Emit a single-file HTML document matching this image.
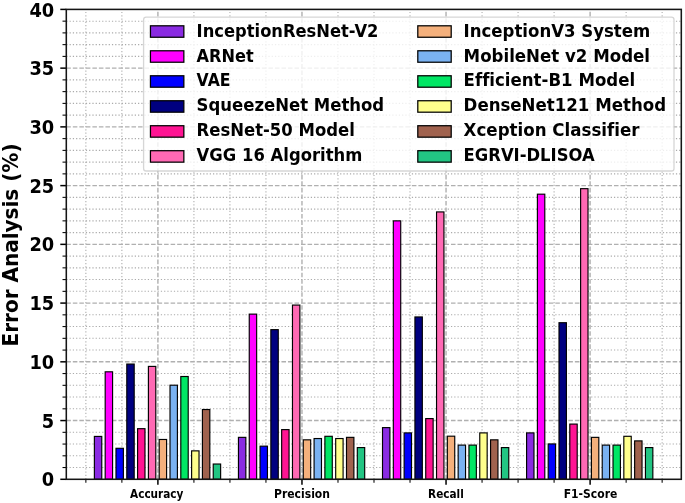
<!DOCTYPE html>
<html><head><meta charset="utf-8"><title>Error Analysis</title>
<style>html,body{margin:0;padding:0;background:#fff}svg{display:block}</style></head>
<body>
<svg width="685" height="503" viewBox="0 0 685 503">
<rect x="0" y="0" width="685" height="503" fill="#fff"/>
<g>
<path d="M66.3 467.55H681.3" stroke="#ababab" stroke-width="1.05" stroke-dasharray="1.23 2.03" fill="none"/>
<path d="M66.3 455.81H681.3" stroke="#ababab" stroke-width="1.05" stroke-dasharray="1.23 2.03" fill="none"/>
<path d="M66.3 444.06H681.3" stroke="#ababab" stroke-width="1.05" stroke-dasharray="1.23 2.03" fill="none"/>
<path d="M66.3 432.31H681.3" stroke="#ababab" stroke-width="1.05" stroke-dasharray="1.23 2.03" fill="none"/>
<path d="M66.3 408.81H681.3" stroke="#ababab" stroke-width="1.05" stroke-dasharray="1.23 2.03" fill="none"/>
<path d="M66.3 397.07H681.3" stroke="#ababab" stroke-width="1.05" stroke-dasharray="1.23 2.03" fill="none"/>
<path d="M66.3 385.32H681.3" stroke="#ababab" stroke-width="1.05" stroke-dasharray="1.23 2.03" fill="none"/>
<path d="M66.3 373.57H681.3" stroke="#ababab" stroke-width="1.05" stroke-dasharray="1.23 2.03" fill="none"/>
<path d="M66.3 350.08H681.3" stroke="#ababab" stroke-width="1.05" stroke-dasharray="1.23 2.03" fill="none"/>
<path d="M66.3 338.33H681.3" stroke="#ababab" stroke-width="1.05" stroke-dasharray="1.23 2.03" fill="none"/>
<path d="M66.3 326.58H681.3" stroke="#ababab" stroke-width="1.05" stroke-dasharray="1.23 2.03" fill="none"/>
<path d="M66.3 314.84H681.3" stroke="#ababab" stroke-width="1.05" stroke-dasharray="1.23 2.03" fill="none"/>
<path d="M66.3 291.34H681.3" stroke="#ababab" stroke-width="1.05" stroke-dasharray="1.23 2.03" fill="none"/>
<path d="M66.3 279.59H681.3" stroke="#ababab" stroke-width="1.05" stroke-dasharray="1.23 2.03" fill="none"/>
<path d="M66.3 267.85H681.3" stroke="#ababab" stroke-width="1.05" stroke-dasharray="1.23 2.03" fill="none"/>
<path d="M66.3 256.10H681.3" stroke="#ababab" stroke-width="1.05" stroke-dasharray="1.23 2.03" fill="none"/>
<path d="M66.3 232.60H681.3" stroke="#ababab" stroke-width="1.05" stroke-dasharray="1.23 2.03" fill="none"/>
<path d="M66.3 220.86H681.3" stroke="#ababab" stroke-width="1.05" stroke-dasharray="1.23 2.03" fill="none"/>
<path d="M66.3 209.11H681.3" stroke="#ababab" stroke-width="1.05" stroke-dasharray="1.23 2.03" fill="none"/>
<path d="M66.3 197.36H681.3" stroke="#ababab" stroke-width="1.05" stroke-dasharray="1.23 2.03" fill="none"/>
<path d="M66.3 173.87H681.3" stroke="#ababab" stroke-width="1.05" stroke-dasharray="1.23 2.03" fill="none"/>
<path d="M66.3 162.12H681.3" stroke="#ababab" stroke-width="1.05" stroke-dasharray="1.23 2.03" fill="none"/>
<path d="M66.3 150.37H681.3" stroke="#ababab" stroke-width="1.05" stroke-dasharray="1.23 2.03" fill="none"/>
<path d="M66.3 138.62H681.3" stroke="#ababab" stroke-width="1.05" stroke-dasharray="1.23 2.03" fill="none"/>
<path d="M66.3 115.13H681.3" stroke="#ababab" stroke-width="1.05" stroke-dasharray="1.23 2.03" fill="none"/>
<path d="M66.3 103.38H681.3" stroke="#ababab" stroke-width="1.05" stroke-dasharray="1.23 2.03" fill="none"/>
<path d="M66.3 91.63H681.3" stroke="#ababab" stroke-width="1.05" stroke-dasharray="1.23 2.03" fill="none"/>
<path d="M66.3 79.88H681.3" stroke="#ababab" stroke-width="1.05" stroke-dasharray="1.23 2.03" fill="none"/>
<path d="M66.3 56.39H681.3" stroke="#ababab" stroke-width="1.05" stroke-dasharray="1.23 2.03" fill="none"/>
<path d="M66.3 44.64H681.3" stroke="#ababab" stroke-width="1.05" stroke-dasharray="1.23 2.03" fill="none"/>
<path d="M66.3 32.89H681.3" stroke="#ababab" stroke-width="1.05" stroke-dasharray="1.23 2.03" fill="none"/>
<path d="M66.3 21.15H681.3" stroke="#ababab" stroke-width="1.05" stroke-dasharray="1.23 2.03" fill="none"/>
<path d="M85.87 479.3V9.4" stroke="#ababab" stroke-width="1.05" stroke-dasharray="1.23 2.03" fill="none"/>
<path d="M121.88 479.3V9.4" stroke="#ababab" stroke-width="1.05" stroke-dasharray="1.23 2.03" fill="none"/>
<path d="M193.92 479.3V9.4" stroke="#ababab" stroke-width="1.05" stroke-dasharray="1.23 2.03" fill="none"/>
<path d="M229.94 479.3V9.4" stroke="#ababab" stroke-width="1.05" stroke-dasharray="1.23 2.03" fill="none"/>
<path d="M265.95 479.3V9.4" stroke="#ababab" stroke-width="1.05" stroke-dasharray="1.23 2.03" fill="none"/>
<path d="M337.99 479.3V9.4" stroke="#ababab" stroke-width="1.05" stroke-dasharray="1.23 2.03" fill="none"/>
<path d="M374.00 479.3V9.4" stroke="#ababab" stroke-width="1.05" stroke-dasharray="1.23 2.03" fill="none"/>
<path d="M410.02 479.3V9.4" stroke="#ababab" stroke-width="1.05" stroke-dasharray="1.23 2.03" fill="none"/>
<path d="M482.06 479.3V9.4" stroke="#ababab" stroke-width="1.05" stroke-dasharray="1.23 2.03" fill="none"/>
<path d="M518.07 479.3V9.4" stroke="#ababab" stroke-width="1.05" stroke-dasharray="1.23 2.03" fill="none"/>
<path d="M554.09 479.3V9.4" stroke="#ababab" stroke-width="1.05" stroke-dasharray="1.23 2.03" fill="none"/>
<path d="M626.13 479.3V9.4" stroke="#ababab" stroke-width="1.05" stroke-dasharray="1.23 2.03" fill="none"/>
<path d="M662.14 479.3V9.4" stroke="#ababab" stroke-width="1.05" stroke-dasharray="1.23 2.03" fill="none"/>
<path d="M66.3 420.56H681.3" stroke="#b0b0b0" stroke-width="1.4" stroke-dasharray="4.55 1.97" fill="none"/>
<path d="M66.3 361.82H681.3" stroke="#b0b0b0" stroke-width="1.4" stroke-dasharray="4.55 1.97" fill="none"/>
<path d="M66.3 303.09H681.3" stroke="#b0b0b0" stroke-width="1.4" stroke-dasharray="4.55 1.97" fill="none"/>
<path d="M66.3 244.35H681.3" stroke="#b0b0b0" stroke-width="1.4" stroke-dasharray="4.55 1.97" fill="none"/>
<path d="M66.3 185.61H681.3" stroke="#b0b0b0" stroke-width="1.4" stroke-dasharray="4.55 1.97" fill="none"/>
<path d="M66.3 126.88H681.3" stroke="#b0b0b0" stroke-width="1.4" stroke-dasharray="4.55 1.97" fill="none"/>
<path d="M66.3 68.14H681.3" stroke="#b0b0b0" stroke-width="1.4" stroke-dasharray="4.55 1.97" fill="none"/>
<path d="M157.90 479.3V9.4" stroke="#b0b0b0" stroke-width="1.4" stroke-dasharray="4.55 1.97" fill="none"/>
<path d="M301.97 479.3V9.4" stroke="#b0b0b0" stroke-width="1.4" stroke-dasharray="4.55 1.97" fill="none"/>
<path d="M446.04 479.3V9.4" stroke="#b0b0b0" stroke-width="1.4" stroke-dasharray="4.55 1.97" fill="none"/>
<path d="M590.11 479.3V9.4" stroke="#b0b0b0" stroke-width="1.4" stroke-dasharray="4.55 1.97" fill="none"/>
</g>
<g stroke="#000" stroke-width="1.15">
<rect x="94.37" y="436.42" width="7.4" height="42.88" fill="#8A2BE2"/>
<rect x="105.18" y="371.81" width="7.4" height="107.49" fill="#FF00FF"/>
<rect x="115.98" y="448.29" width="7.4" height="31.01" fill="#0000FF"/>
<rect x="126.79" y="364.06" width="7.4" height="115.24" fill="#000080"/>
<rect x="137.59" y="428.67" width="7.4" height="50.63" fill="#FF1493"/>
<rect x="148.40" y="366.41" width="7.4" height="112.89" fill="#FF69B4"/>
<rect x="159.20" y="439.48" width="7.4" height="39.82" fill="#F4B07C"/>
<rect x="170.01" y="385.20" width="7.4" height="94.10" fill="#7AB2F2"/>
<rect x="180.81" y="376.51" width="7.4" height="102.79" fill="#00E664"/>
<rect x="191.62" y="450.87" width="7.4" height="28.43" fill="#FFFF8C"/>
<rect x="202.42" y="409.52" width="7.4" height="69.78" fill="#A0624E"/>
<rect x="213.23" y="464.03" width="7.4" height="15.27" fill="#22C583"/>
<rect x="238.44" y="437.36" width="7.4" height="41.94" fill="#8A2BE2"/>
<rect x="249.25" y="314.13" width="7.4" height="165.17" fill="#FF00FF"/>
<rect x="260.05" y="446.17" width="7.4" height="33.13" fill="#0000FF"/>
<rect x="270.86" y="329.64" width="7.4" height="149.66" fill="#000080"/>
<rect x="281.66" y="429.61" width="7.4" height="49.69" fill="#FF1493"/>
<rect x="292.47" y="305.08" width="7.4" height="174.22" fill="#FF69B4"/>
<rect x="303.27" y="439.83" width="7.4" height="39.47" fill="#F4B07C"/>
<rect x="314.08" y="438.54" width="7.4" height="40.76" fill="#7AB2F2"/>
<rect x="324.88" y="436.30" width="7.4" height="43.00" fill="#00E664"/>
<rect x="335.69" y="438.54" width="7.4" height="40.76" fill="#FFFF8C"/>
<rect x="346.49" y="437.36" width="7.4" height="41.94" fill="#A0624E"/>
<rect x="357.30" y="447.58" width="7.4" height="31.72" fill="#22C583"/>
<rect x="382.51" y="427.61" width="7.4" height="51.69" fill="#8A2BE2"/>
<rect x="393.32" y="220.86" width="7.4" height="258.44" fill="#FF00FF"/>
<rect x="404.12" y="432.90" width="7.4" height="46.40" fill="#0000FF"/>
<rect x="414.93" y="316.95" width="7.4" height="162.35" fill="#000080"/>
<rect x="425.73" y="418.57" width="7.4" height="60.73" fill="#FF1493"/>
<rect x="436.54" y="211.93" width="7.4" height="267.37" fill="#FF69B4"/>
<rect x="447.34" y="436.19" width="7.4" height="43.11" fill="#F4B07C"/>
<rect x="458.15" y="445.11" width="7.4" height="34.19" fill="#7AB2F2"/>
<rect x="468.95" y="445.11" width="7.4" height="34.19" fill="#00E664"/>
<rect x="479.76" y="432.90" width="7.4" height="46.40" fill="#FFFF8C"/>
<rect x="490.56" y="439.83" width="7.4" height="39.47" fill="#A0624E"/>
<rect x="501.37" y="447.58" width="7.4" height="31.72" fill="#22C583"/>
<rect x="526.58" y="432.90" width="7.4" height="46.40" fill="#8A2BE2"/>
<rect x="537.39" y="194.19" width="7.4" height="285.11" fill="#FF00FF"/>
<rect x="548.19" y="443.94" width="7.4" height="35.36" fill="#0000FF"/>
<rect x="559.00" y="322.71" width="7.4" height="156.59" fill="#000080"/>
<rect x="569.80" y="424.09" width="7.4" height="55.21" fill="#FF1493"/>
<rect x="580.61" y="188.67" width="7.4" height="290.63" fill="#FF69B4"/>
<rect x="591.41" y="437.36" width="7.4" height="41.94" fill="#F4B07C"/>
<rect x="602.22" y="445.11" width="7.4" height="34.19" fill="#7AB2F2"/>
<rect x="613.02" y="445.11" width="7.4" height="34.19" fill="#00E664"/>
<rect x="623.83" y="436.30" width="7.4" height="43.00" fill="#FFFF8C"/>
<rect x="634.63" y="440.89" width="7.4" height="38.41" fill="#A0624E"/>
<rect x="645.44" y="447.58" width="7.4" height="31.72" fill="#22C583"/>
</g>
<g stroke="#000" fill="none">
<path d="M60.3 479.30H66.3" stroke-width="1.5"/>
<path d="M62.5 467.55H66.3" stroke-width="1.05"/>
<path d="M62.5 455.81H66.3" stroke-width="1.05"/>
<path d="M62.5 444.06H66.3" stroke-width="1.05"/>
<path d="M62.5 432.31H66.3" stroke-width="1.05"/>
<path d="M60.3 420.56H66.3" stroke-width="1.5"/>
<path d="M62.5 408.81H66.3" stroke-width="1.05"/>
<path d="M62.5 397.07H66.3" stroke-width="1.05"/>
<path d="M62.5 385.32H66.3" stroke-width="1.05"/>
<path d="M62.5 373.57H66.3" stroke-width="1.05"/>
<path d="M60.3 361.82H66.3" stroke-width="1.5"/>
<path d="M62.5 350.08H66.3" stroke-width="1.05"/>
<path d="M62.5 338.33H66.3" stroke-width="1.05"/>
<path d="M62.5 326.58H66.3" stroke-width="1.05"/>
<path d="M62.5 314.84H66.3" stroke-width="1.05"/>
<path d="M60.3 303.09H66.3" stroke-width="1.5"/>
<path d="M62.5 291.34H66.3" stroke-width="1.05"/>
<path d="M62.5 279.59H66.3" stroke-width="1.05"/>
<path d="M62.5 267.85H66.3" stroke-width="1.05"/>
<path d="M62.5 256.10H66.3" stroke-width="1.05"/>
<path d="M60.3 244.35H66.3" stroke-width="1.5"/>
<path d="M62.5 232.60H66.3" stroke-width="1.05"/>
<path d="M62.5 220.86H66.3" stroke-width="1.05"/>
<path d="M62.5 209.11H66.3" stroke-width="1.05"/>
<path d="M62.5 197.36H66.3" stroke-width="1.05"/>
<path d="M60.3 185.61H66.3" stroke-width="1.5"/>
<path d="M62.5 173.87H66.3" stroke-width="1.05"/>
<path d="M62.5 162.12H66.3" stroke-width="1.05"/>
<path d="M62.5 150.37H66.3" stroke-width="1.05"/>
<path d="M62.5 138.62H66.3" stroke-width="1.05"/>
<path d="M60.3 126.88H66.3" stroke-width="1.5"/>
<path d="M62.5 115.13H66.3" stroke-width="1.05"/>
<path d="M62.5 103.38H66.3" stroke-width="1.05"/>
<path d="M62.5 91.63H66.3" stroke-width="1.05"/>
<path d="M62.5 79.88H66.3" stroke-width="1.05"/>
<path d="M60.3 68.14H66.3" stroke-width="1.5"/>
<path d="M62.5 56.39H66.3" stroke-width="1.05"/>
<path d="M62.5 44.64H66.3" stroke-width="1.05"/>
<path d="M62.5 32.89H66.3" stroke-width="1.05"/>
<path d="M62.5 21.15H66.3" stroke-width="1.05"/>
<path d="M60.3 9.40H66.3" stroke-width="1.5"/>
<path d="M85.87 479.3V482.7" stroke-width="1.05"/>
<path d="M121.88 479.3V482.7" stroke-width="1.05"/>
<path d="M157.90 479.3V484.7" stroke-width="1.5"/>
<path d="M193.92 479.3V482.7" stroke-width="1.05"/>
<path d="M229.94 479.3V482.7" stroke-width="1.05"/>
<path d="M265.95 479.3V482.7" stroke-width="1.05"/>
<path d="M301.97 479.3V484.7" stroke-width="1.5"/>
<path d="M337.99 479.3V482.7" stroke-width="1.05"/>
<path d="M374.00 479.3V482.7" stroke-width="1.05"/>
<path d="M410.02 479.3V482.7" stroke-width="1.05"/>
<path d="M446.04 479.3V484.7" stroke-width="1.5"/>
<path d="M482.06 479.3V482.7" stroke-width="1.05"/>
<path d="M518.07 479.3V482.7" stroke-width="1.05"/>
<path d="M554.09 479.3V482.7" stroke-width="1.05"/>
<path d="M590.11 479.3V484.7" stroke-width="1.5"/>
<path d="M626.13 479.3V482.7" stroke-width="1.05"/>
<path d="M662.14 479.3V482.7" stroke-width="1.05"/>
</g>
<rect x="66.3" y="9.4" width="615.0" height="469.90000000000003" fill="none" stroke="#151515" stroke-width="1.55"/>
<text transform="translate(54.3 486.40) scale(0.95 1)" text-anchor="end" font-size="18.8" font-family="DejaVu Sans, Liberation Sans, sans-serif" font-weight="bold" style="font-variant-ligatures:none">0</text>
<text transform="translate(54.3 427.66) scale(0.95 1)" text-anchor="end" font-size="18.8" font-family="DejaVu Sans, Liberation Sans, sans-serif" font-weight="bold" style="font-variant-ligatures:none">5</text>
<text transform="translate(54.3 368.93) scale(0.95 1)" text-anchor="end" font-size="18.8" font-family="DejaVu Sans, Liberation Sans, sans-serif" font-weight="bold" style="font-variant-ligatures:none">10</text>
<text transform="translate(54.3 310.19) scale(0.95 1)" text-anchor="end" font-size="18.8" font-family="DejaVu Sans, Liberation Sans, sans-serif" font-weight="bold" style="font-variant-ligatures:none">15</text>
<text transform="translate(54.3 251.45) scale(0.95 1)" text-anchor="end" font-size="18.8" font-family="DejaVu Sans, Liberation Sans, sans-serif" font-weight="bold" style="font-variant-ligatures:none">20</text>
<text transform="translate(54.3 192.71) scale(0.95 1)" text-anchor="end" font-size="18.8" font-family="DejaVu Sans, Liberation Sans, sans-serif" font-weight="bold" style="font-variant-ligatures:none">25</text>
<text transform="translate(54.3 133.97) scale(0.95 1)" text-anchor="end" font-size="18.8" font-family="DejaVu Sans, Liberation Sans, sans-serif" font-weight="bold" style="font-variant-ligatures:none">30</text>
<text transform="translate(54.3 75.24) scale(0.95 1)" text-anchor="end" font-size="18.8" font-family="DejaVu Sans, Liberation Sans, sans-serif" font-weight="bold" style="font-variant-ligatures:none">35</text>
<text transform="translate(54.3 16.50) scale(0.95 1)" text-anchor="end" font-size="18.8" font-family="DejaVu Sans, Liberation Sans, sans-serif" font-weight="bold" style="font-variant-ligatures:none">40</text>
<text transform="translate(156.7 497.7) scale(0.905 1)" text-anchor="middle" font-size="11.6" font-family="DejaVu Sans, Liberation Sans, sans-serif" font-weight="bold" style="font-variant-ligatures:none">Accuracy</text>
<text transform="translate(302.0 497.7) scale(0.933 1)" text-anchor="middle" font-size="11.6" font-family="DejaVu Sans, Liberation Sans, sans-serif" font-weight="bold" style="font-variant-ligatures:none">Precision</text>
<text transform="translate(445.9 497.7) scale(0.905 1)" text-anchor="middle" font-size="11.6" font-family="DejaVu Sans, Liberation Sans, sans-serif" font-weight="bold" style="font-variant-ligatures:none">Recall</text>
<text transform="translate(590.5 497.7) scale(0.933 1)" text-anchor="middle" font-size="11.6" font-family="DejaVu Sans, Liberation Sans, sans-serif" font-weight="bold" style="font-variant-ligatures:none">F1-Score</text>
<text transform="translate(18.3 244.95) rotate(-90) scale(0.971 1)" text-anchor="middle" font-size="20.6" font-family="DejaVu Sans, Liberation Sans, sans-serif" font-weight="bold" style="font-variant-ligatures:none">Error Analysis (%)</text>
<rect x="143.6" y="17.1" width="530.4" height="153.9" rx="2.6" ry="2.6" fill="#fff" fill-opacity="0.8" stroke="#ccc" stroke-opacity="0.8" stroke-width="1.3"/>
<rect x="150.45" y="25.80" width="33.4" height="11.45" fill="#8A2BE2" stroke="#000" stroke-width="1.25"/>
<text transform="translate(196.6 36.60) scale(0.9280 1)" font-size="17.6" font-family="DejaVu Sans, Liberation Sans, sans-serif" font-weight="bold" style="font-variant-ligatures:none">InceptionResNet-V2</text>
<rect x="150.45" y="50.78" width="33.4" height="11.45" fill="#FF00FF" stroke="#000" stroke-width="1.25"/>
<text transform="translate(196.6 61.53) scale(0.9170 1)" font-size="17.6" font-family="DejaVu Sans, Liberation Sans, sans-serif" font-weight="bold" style="font-variant-ligatures:none">ARNet</text>
<rect x="150.45" y="75.76" width="33.4" height="11.45" fill="#0000FF" stroke="#000" stroke-width="1.25"/>
<text transform="translate(196.6 86.46) scale(0.8916 1)" font-size="17.6" font-family="DejaVu Sans, Liberation Sans, sans-serif" font-weight="bold" style="font-variant-ligatures:none">VAE</text>
<rect x="150.45" y="100.74" width="33.4" height="11.45" fill="#000080" stroke="#000" stroke-width="1.25"/>
<text transform="translate(196.6 111.39) scale(0.9381 1)" font-size="17.6" font-family="DejaVu Sans, Liberation Sans, sans-serif" font-weight="bold" style="font-variant-ligatures:none">SqueezeNet Method</text>
<rect x="150.45" y="125.72" width="33.4" height="11.45" fill="#FF1493" stroke="#000" stroke-width="1.25"/>
<text transform="translate(196.6 136.32) scale(0.9360 1)" font-size="17.6" font-family="DejaVu Sans, Liberation Sans, sans-serif" font-weight="bold" style="font-variant-ligatures:none">ResNet-50 Model</text>
<rect x="150.45" y="150.70" width="33.4" height="11.45" fill="#FF69B4" stroke="#000" stroke-width="1.25"/>
<text transform="translate(196.6 161.25) scale(0.9337 1)" font-size="17.6" font-family="DejaVu Sans, Liberation Sans, sans-serif" font-weight="bold" style="font-variant-ligatures:none">VGG 16 Algorithm</text>
<rect x="417.8" y="25.80" width="33.4" height="11.45" fill="#F4B07C" stroke="#000" stroke-width="1.25"/>
<text transform="translate(463.6 36.60) scale(0.9416 1)" font-size="17.6" font-family="DejaVu Sans, Liberation Sans, sans-serif" font-weight="bold" style="font-variant-ligatures:none">InceptionV3 System</text>
<rect x="417.8" y="50.78" width="33.4" height="11.45" fill="#7AB2F2" stroke="#000" stroke-width="1.25"/>
<text transform="translate(463.6 61.53) scale(0.9452 1)" font-size="17.6" font-family="DejaVu Sans, Liberation Sans, sans-serif" font-weight="bold" style="font-variant-ligatures:none">MobileNet v2 Model</text>
<rect x="417.8" y="75.76" width="33.4" height="11.45" fill="#00E664" stroke="#000" stroke-width="1.25"/>
<text transform="translate(463.6 86.46) scale(0.9429 1)" font-size="17.6" font-family="DejaVu Sans, Liberation Sans, sans-serif" font-weight="bold" style="font-variant-ligatures:none">Efficient-B1 Model</text>
<rect x="417.8" y="100.74" width="33.4" height="11.45" fill="#FFFF8C" stroke="#000" stroke-width="1.25"/>
<text transform="translate(463.6 111.39) scale(0.9438 1)" font-size="17.6" font-family="DejaVu Sans, Liberation Sans, sans-serif" font-weight="bold" style="font-variant-ligatures:none">DenseNet121 Method</text>
<rect x="417.8" y="125.72" width="33.4" height="11.45" fill="#A0624E" stroke="#000" stroke-width="1.25"/>
<text transform="translate(463.6 136.32) scale(0.9481 1)" font-size="17.6" font-family="DejaVu Sans, Liberation Sans, sans-serif" font-weight="bold" style="font-variant-ligatures:none">Xception Classifier</text>
<rect x="417.8" y="150.70" width="33.4" height="11.45" fill="#22C583" stroke="#000" stroke-width="1.25"/>
<text transform="translate(463.6 161.25) scale(0.9328 1)" font-size="17.6" font-family="DejaVu Sans, Liberation Sans, sans-serif" font-weight="bold" style="font-variant-ligatures:none">EGRVI-DLISOA</text>
</svg>
</body></html>
